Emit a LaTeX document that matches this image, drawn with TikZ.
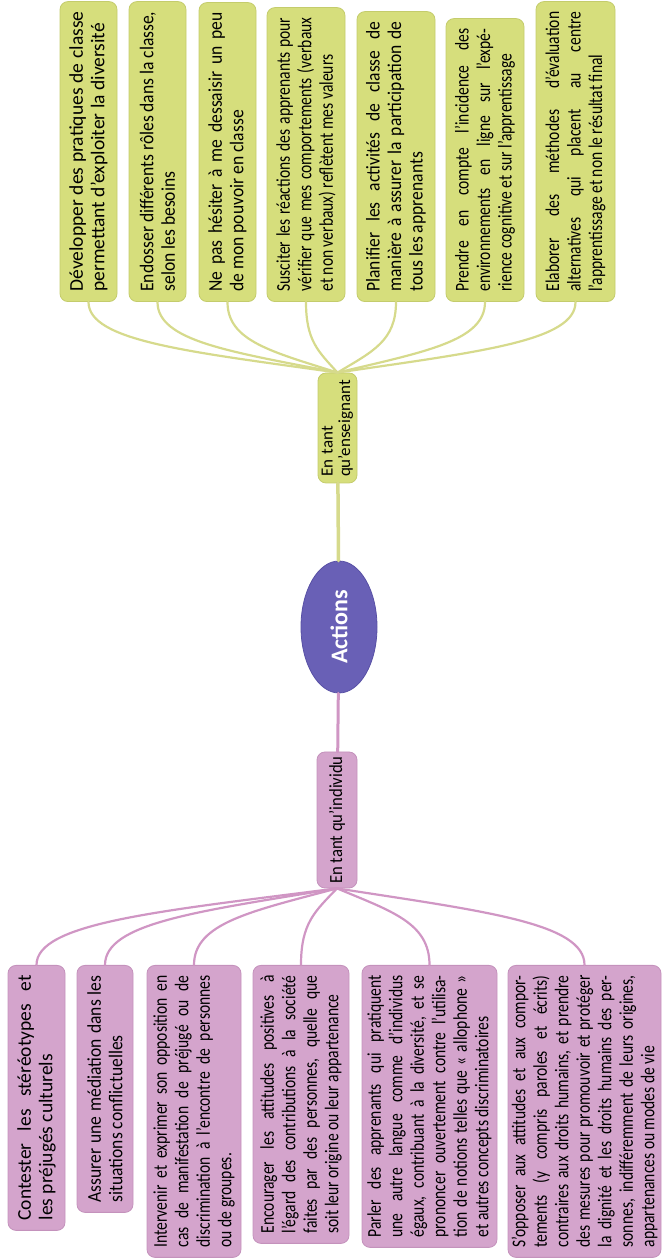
\documentclass[tikz,border=0pt]{standalone}
\usepackage{fontspec}
\setmainfont{Carlito}
\newfontfamily\midfont[FakeStretch=0.9]{Carlito}
\newfontfamily\tightfont[FakeStretch=0.8]{Carlito}
\usetikzlibrary{shapes.geometric}
\definecolor{boxgreen}{RGB}{214,222,124}
\definecolor{edgegreen}{RGB}{196,204,108}
\definecolor{linegreen}{RGB}{214,218,140}
\definecolor{boxpink}{RGB}{212,164,204}
\definecolor{edgepink}{RGB}{196,146,188}
\definecolor{linepink}{RGB}{208,150,196}
\definecolor{actblue}{RGB}{105,96,182}
\definecolor{edgeblue}{RGB}{88,80,165}
\begin{document}
\begin{tikzpicture}[x=1pt, y=1pt, line cap=round,
	every node/.style={rotate=90, font=\fontsize{19.5}{21.5}\selectfont, inner xsep=10pt, inner ysep=2.5pt},
	gbox/.style={rectangle, rounded corners=8pt, fill=boxgreen, draw=edgegreen, line width=0.8pt, align=justify},
	pbox/.style={rectangle, rounded corners=8pt, fill=boxpink, draw=edgepink, line width=0.8pt, align=justify},
	mid/.style={font=\fontsize{19.5}{21.5}\midfont},
	tight/.style={font=\fontsize{19.5}{21.5}\tightfont},
	gline/.style={draw=linegreen, line width=2.2pt},
	pline/.style={draw=linepink, line width=2.2pt}]
	\useasboundingbox (0,0) rectangle (664,1258);
	
	\node (1) [gbox, anchor=west, text width=280pt, minimum height=57pt] at (88.5,956) {D\'evelopper des pratiques de classe\linebreak permettant d’exploiter la diversit\'e};
	\node (2) [gbox, mid, anchor=west, text width=280pt, minimum height=57pt] at (157.5,956) {Endosser diff\'erents r\^oles dans la classe,\linebreak selon les besoins};
	\node (3) [gbox, mid, anchor=west, text width=279pt, minimum height=57pt] at (227.5,956) {Ne pas h\'esiter \`a me dessaisir un peu\linebreak de mon pouvoir en classe};
	\node (4) [gbox, tight, anchor=west, text width=274pt, minimum height=78pt] at (306,956) {Susciter les r\'eactions des apprenants pour\linebreak v\'erifier que mes comportements (verbaux\linebreak et non verbaux) refl\`etent mes valeurs};
	\node (5) [gbox, mid, anchor=west, text width=270pt, minimum height=78pt] at (396,956) {Planifier les activit\'es de classe de\linebreak mani\`ere \`a assurer la participation de\linebreak tous les apprenants};
	\node (6) [gbox, tight, anchor=west, text width=263pt, minimum height=78pt] at (485,956) {Prendre en compte l’incidence des\linebreak environnements en ligne sur l’exp\'e-\linebreak rience cognitive et sur l’apprentissage};
	\node (7) [gbox, tight, anchor=west, text width=280pt, minimum height=79pt] at (575.5,956) {Elaborer des m\'ethodes d’\'evaluation\linebreak alternatives qui placent au centre\linebreak l’apprentissage et non le r\'esultat final};
	
	\node (8) [gbox, align=left, text width=98pt, inner xsep=6pt, minimum height=39pt, font=\fontsize{17}{17.5}\selectfont] at (337.5,830) {En tant\\qu’enseignant};
	\node (9) [ellipse, fill=actblue, draw=edgeblue, line width=0.8pt, minimum width=132pt, minimum height=76pt, inner sep=0pt, text=white, font=\fontsize{24}{28}\selectfont\bfseries] at (339,631) {Actions};
	\node (10) [pbox, align=center, inner xsep=3pt, minimum width=136pt, minimum height=40pt, font=\fontsize{18.5}{19}\midfont] at (337,438) {En tant qu’individu};
	
	\node (11) [pbox, anchor=east, text width=245pt, minimum height=57pt] at (36.5,293) {Contester les st\'er\'eotypes et\linebreak les pr\'ejug\'es culturels};
	\node (12) [pbox, mid, anchor=east, text width=227pt, minimum height=56pt] at (105,293) {Assurer une m\'ediation dans les\linebreak situations conflictuelles};
	\node (13) [pbox, tight, anchor=east, text width=272pt, minimum height=94pt] at (194,293) {Intervenir et exprimer son opposition en\linebreak cas de manifestation de pr\'ejug\'e ou de\linebreak discrimination \`a l’encontre de personnes\linebreak ou de groupes.};
	\node (14) [pbox, tight, anchor=east, text width=258pt, minimum height=96pt] at (301,293) {Encourager les attitudes positives \`a\linebreak l’\'egard des contributions \`a la soci\'et\'e\linebreak faites par des personnes, quelle que\linebreak soit leur origine ou leur appartenance};
	\node (15) [pbox, tight, anchor=east, text width=262pt, minimum height=135pt] at (429.5,293) {Parler des apprenants qui pratiquent\linebreak une autre langue comme d’individus\linebreak \'egaux, contribuant \`a la diversit\'e, et se\linebreak prononcer ouvertement contre l’utilisa-\linebreak tion de notions telles que « allophone »\linebreak et autres concepts discriminatoires};
	\node (16) [pbox, tight, anchor=east, text width=272pt, minimum height=153pt] at (584.5,293) {S’opposer aux attitudes et aux compor-\linebreak tements (y compris paroles et \'ecrits)\linebreak contraires aux droits humains, et prendre\linebreak des mesures pour promouvoir et prot\'eger\linebreak la dignit\'e et les droits humains des per-\linebreak sonnes, indiff\'eremment de leurs origines,\linebreak appartenances ou modes de vie};
	
	\draw[gline, line width=3.5pt] (9) -- (8);
	\draw[pline, line width=3pt] (9) -- (10);
	
	\draw[gline] (8.east) .. controls +(-150,21) and +(0,-39) .. (1.west);
	\draw[gline] (8.east) .. controls +(-108,21) and +(0,-39) .. (2.west);
	\draw[gline] (8.east) .. controls +(-66,21) and +(0,-39) .. (3.west);
	\draw[gline] (8.east) .. controls +(-19,21) and +(0,-39) .. (4.west);
	\draw[gline] (8.east) .. controls +(35,21) and +(0,-39) .. (5.west);
	\draw[gline] (8.east) .. controls +(88,21) and +(0,-39) .. (6.west);
	\draw[gline] (8.east) .. controls +(143,21) and +(0,-39) .. (7.west);
	
	\draw[pline] (10.west) .. controls +(-180,-23) and +(0,42) .. (11.east);
	\draw[pline] (10.west) .. controls +(-139,-23) and +(0,42) .. (12.east);
	\draw[pline] (10.west) .. controls +(-86,-23) and +(0,42) .. (13.east);
	\draw[pline] (10.west) .. controls +(-22,-23) and +(0,42) .. (14.east);
	\draw[pline] (10.west) .. controls +(55,-23) and +(0,42) .. (15.east);
	\draw[pline] (10.west) .. controls +(148,-23) and +(0,42) .. (16.east);
	
\end{tikzpicture}
\end{document}
